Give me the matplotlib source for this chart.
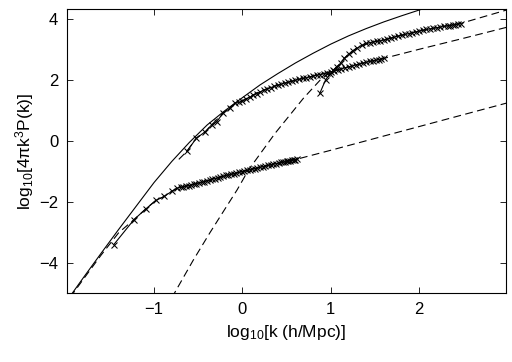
import matplotlib
matplotlib.use('Agg')
import matplotlib.pyplot as plt

plt.rcParams['font.family'] = ['Liberation Sans', 'DejaVu Sans']
plt.rcParams['mathtext.default'] = 'regular'
plt.rcParams['axes.unicode_minus'] = True

# linear spectrum (solid)
lin_x = [-1.95, -1.8, -1.6, -1.4, -1.2, -1.0, -0.8, -0.6, -0.4, -0.2, 0.0, 0.2,
         0.4, 0.6, 0.8, 1.0, 1.2, 1.4, 1.6, 1.8, 2.0, 2.1]
lin_y = [-5.10, -4.49, -3.69, -2.90, -2.13, -1.36, -0.67, -0.04, 0.53, 1.00, 1.43,
         1.85, 2.22, 2.57, 2.89, 3.19, 3.46, 3.70, 3.92, 4.12, 4.31, 4.40]

# theory curves (dashed)
th1_x = [-1.95, -1.8, -1.6, -1.4, -1.227, -1.094, -0.98, -0.886, -0.80, -0.7,
         -0.4, 0.0, 0.3, 0.62, 1.0, 2.0, 3.0]
th1_y = [-5.14, -4.54, -3.75, -3.01, -2.58, -2.23, -1.95, -1.82, -1.65, -1.52,
         -1.30, -1.00, -0.79, -0.59, -0.30, 0.48, 1.26]
th2_x = [-0.72, -0.63, -0.52, -0.42, -0.35, -0.22, -0.08, 0.0, 0.2, 0.4, 0.6,
         0.8, 1.0, 1.2, 1.4, 1.6, 2.0, 2.5, 3.0]
th2_y = [-0.60, -0.34, 0.10, 0.31, 0.53, 0.92, 1.25, 1.33, 1.64, 1.84, 2.00,
         2.14, 2.28, 2.44, 2.59, 2.72, 3.02, 3.38, 3.75]
th3_x = [-0.80, -0.77, -0.56, -0.37, -0.2, -0.06, 0.07, 0.37, 0.69, 0.88, 1.03,
         1.11, 1.20, 1.30, 1.45, 1.60, 1.80, 2.00, 2.20, 2.47, 3.0]
th3_y = [-5.15, -5.00, -3.93, -3.02, -2.24, -1.60, -0.94, 0.26, 1.41, 2.01, 2.34,
         2.56, 2.86, 3.08, 3.24, 3.33, 3.48, 3.62, 3.73, 3.87, 4.32]

# simulation measurements
a_x = [-1.455, -1.227, -1.094, -0.98, -0.886, -0.80, -0.745,
       -0.70, -0.67, -0.64, -0.61, -0.58, -0.55, -0.52, -0.49, -0.46, -0.43,
       -0.40, -0.37, -0.34, -0.31, -0.28, -0.25, -0.22, -0.19, -0.16, -0.13,
       -0.10, -0.07, -0.04, -0.01, 0.02, 0.05, 0.08, 0.11, 0.14, 0.17, 0.20,
       0.23, 0.26, 0.29, 0.32, 0.35, 0.38, 0.41, 0.44, 0.46, 0.48, 0.50, 0.52,
       0.54, 0.56, 0.58, 0.60, 0.62]
a_y = [-3.40, -2.58, -2.23, -1.95, -1.82, -1.65, -1.55,
       -1.52, -1.51, -1.48, -1.47, -1.44, -1.42, -1.40, -1.37, -1.35, -1.33,
       -1.30, -1.28, -1.25, -1.23, -1.20, -1.18, -1.16, -1.13, -1.11, -1.09,
       -1.07, -1.05, -1.03, -1.00, -0.99, -0.96, -0.94, -0.92, -0.90, -0.88, -0.86,
       -0.84, -0.82, -0.80, -0.78, -0.76, -0.74, -0.72, -0.70, -0.69, -0.68, -0.66, -0.65,
       -0.64, -0.63, -0.62, -0.61, -0.59]

b_x = [-0.63, -0.52, -0.42, -0.35, -0.29, -0.22, -0.14, -0.08,
       -0.04, 0.00, 0.04, 0.08, 0.12, 0.16, 0.20, 0.24, 0.28, 0.32, 0.36, 0.40,
       0.44, 0.48, 0.52, 0.56, 0.60, 0.64, 0.68, 0.72, 0.76, 0.80, 0.84, 0.88,
       0.92, 0.96, 1.00, 1.04, 1.08, 1.12, 1.16, 1.20, 1.24, 1.28, 1.32, 1.36,
       1.40, 1.44, 1.48, 1.51, 1.54, 1.57, 1.60]
b_y = [-0.34, 0.10, 0.31, 0.53, 0.64, 0.92, 1.08, 1.25,
       1.27, 1.31, 1.38, 1.44, 1.50, 1.56, 1.62, 1.67, 1.72, 1.76, 1.80, 1.84,
       1.87, 1.91, 1.94, 1.97, 2.00, 2.03, 2.06, 2.08, 2.11, 2.14, 2.17, 2.19,
       2.22, 2.25, 2.28, 2.31, 2.34, 2.38, 2.41, 2.44, 2.47, 2.50, 2.53, 2.56,
       2.59, 2.62, 2.64, 2.66, 2.68, 2.70, 2.72]

c_x = [0.875, 0.94, 0.99, 1.03, 1.07, 1.11, 1.15, 1.20, 1.25, 1.30, 1.35, 1.40,
       1.44, 1.48, 1.52, 1.56, 1.60, 1.64, 1.68, 1.72, 1.76, 1.80, 1.84, 1.88,
       1.92, 1.96, 2.00, 2.04, 2.08, 2.12, 2.16, 2.20, 2.24, 2.28, 2.32, 2.35,
       2.38, 2.41, 2.44, 2.47]
c_y = [1.57, 2.01, 2.20, 2.34, 2.45, 2.56, 2.72, 2.86, 2.97, 3.06, 3.15, 3.21,
       3.24, 3.26, 3.28, 3.30, 3.32, 3.35, 3.38, 3.42, 3.45, 3.48, 3.51, 3.53,
       3.56, 3.59, 3.62, 3.64, 3.67, 3.69, 3.71, 3.73, 3.75, 3.77, 3.79, 3.80,
       3.82, 3.83, 3.85, 3.86]

fig = plt.figure(figsize=(5.12, 3.62), dpi=100)
ax = fig.add_axes([0.130, 0.190, 0.858, 0.784])

ax.plot(lin_x, lin_y, '-', color='black', lw=0.8)
for xs, ys in [(th1_x, th1_y), (th2_x, th2_y), (th3_x, th3_y)]:
    ax.plot(xs, ys, '--', color='black', lw=0.8, dashes=(7, 4))
for xs, ys in [(a_x, a_y), (b_x, b_y), (c_x, c_y)]:
    ax.plot(xs, ys, '-', color='black', lw=0.8, marker='x',
            markersize=4.3, markeredgewidth=0.75)

ax.set_xlim(-1.99, 2.98)
ax.set_ylim(-5.0, 4.33)
ax.set_xticks([-1, 0, 1, 2])
ax.set_yticks([-4, -2, 0, 2, 4])
ax.tick_params(direction='in', top=True, right=True, length=4, width=0.6,
               labelsize=12, pad=6)
for s in ax.spines.values():
    s.set_linewidth(0.8)

ax.set_xlabel(r'$log_{10}$[k (h/Mpc)]', fontsize=12.5, labelpad=5)
ax.set_ylabel(r'$log_{10}[4\pi k^3P(k)]$', fontsize=12.5, labelpad=2)

fig.savefig('out.png', dpi=100)
